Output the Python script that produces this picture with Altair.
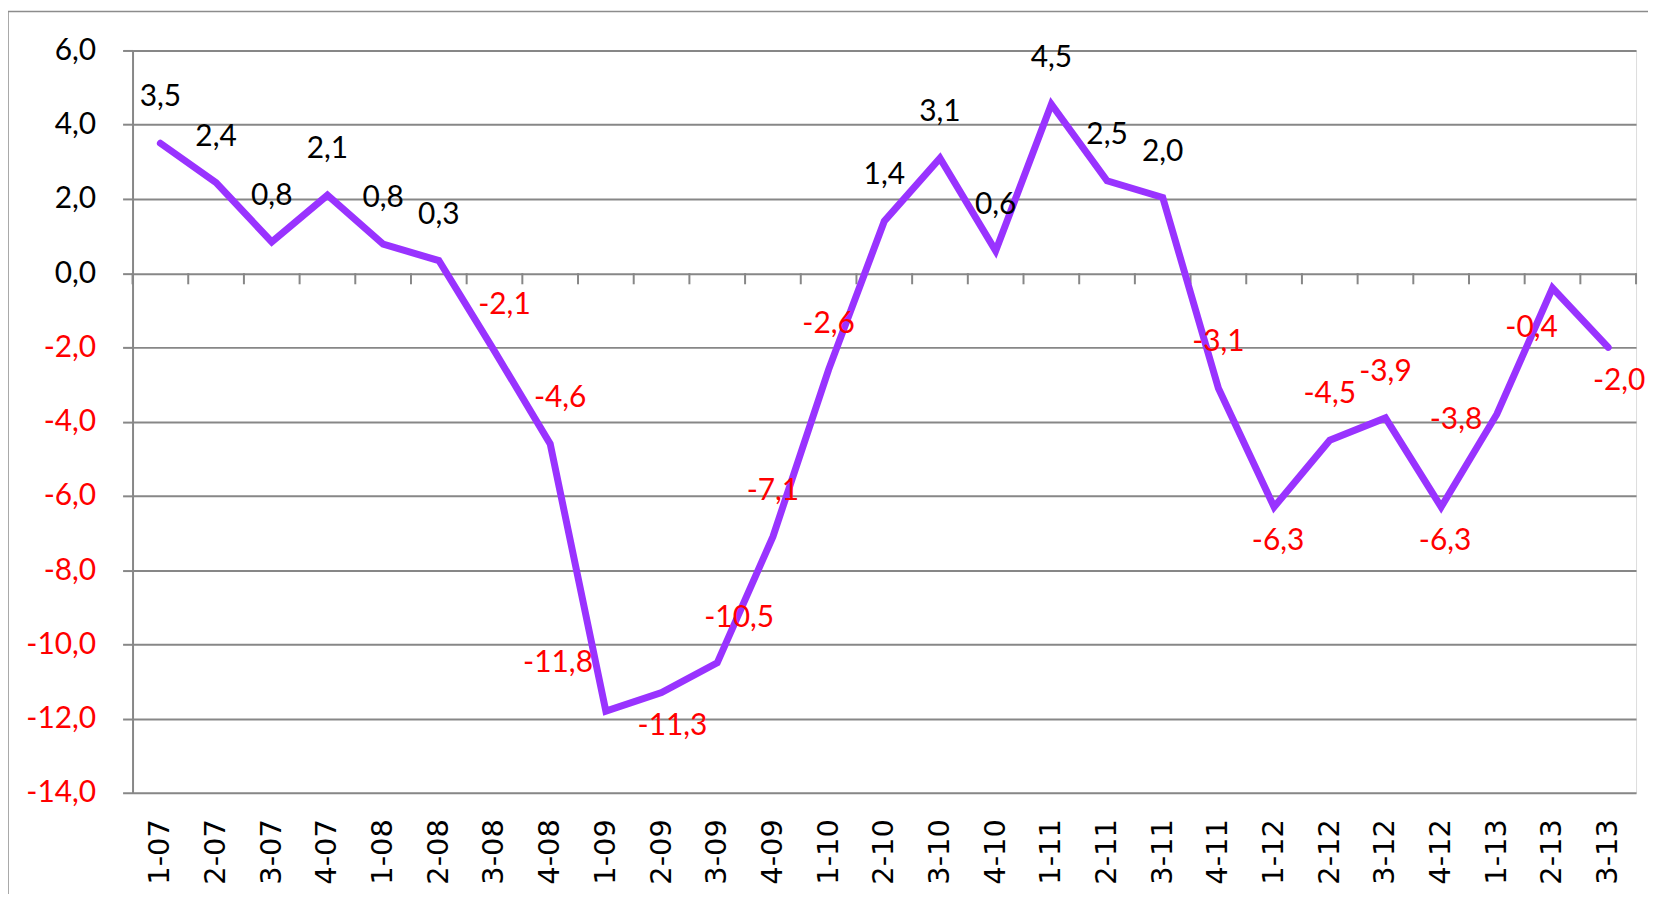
import altair as alt
import pandas as pd

quarters = ["1-07", "2-07", "3-07", "4-07", "1-08", "2-08", "3-08", "4-08",
            "1-09", "2-09", "3-09", "4-09", "1-10", "2-10", "3-10", "4-10",
            "1-11", "2-11", "3-11", "4-11", "1-12", "2-12", "3-12", "4-12",
            "1-13", "2-13", "3-13"]
values = [3.5, 2.44, 0.84, 2.1, 0.78, 0.34, -2.1, -4.6,
          -11.8, -11.3, -10.5, -7.1, -2.6, 1.4, 3.1, 0.6,
          4.55, 2.49, 2.04, -3.1, -6.3, -4.5, -3.9, -6.3,
          -3.8, -0.4, -2.0]
# Data-label placement (like Excel's per-point label position)
placements = ["above", "above", "above", "above", "above", "above", "above_r", "above_r",
              "upper_left", "below_r", "above_rr", "above", "above", "above", "above", "above",
              "above", "above", "above", "above", "below", "above", "above", "below",
              "left", "lower_left", "below_r"]
y_ticks = [-14, -12, -10, -8, -6, -4, -2, 0, 2, 4, 6]

OFFSETS = {
    "above": (0, -46),
    "above_r": (10, -46),
    "above_rr": (22, -45),
    "upper_left": (-48, -48),
    "below": (4, 34),
    "below_r": (11, 34),
    "left": (-41, 6),
    "lower_left": (-21, 40),
}

df = pd.DataFrame({"q": quarters, "v": values, "pos": placements})

FONT = "Lato"
FS = 30
GRAY = "#878787"
PURPLE = "#9933FF"
RED = "#FF0000"

W, H = 1509, 745

x_enc = alt.X("q:N", sort=quarters, title=None,
              scale=alt.Scale(paddingInner=0, paddingOuter=0),
              axis=alt.Axis(labelAngle=270, labelFont="DejaVu Sans", labelFontSize=29,
                            labelColor="black", labelPadding=26, ticks=False,
                            tickSize=0, domain=False, grid=False, labelBaseline="middle"))
y_enc = alt.Y("v:Q", title=None,
              scale=alt.Scale(domain=[-14, 6], nice=False, zero=False),
              axis=alt.Axis(values=y_ticks, grid=True, gridColor=GRAY, gridWidth=2,
                            domainColor=GRAY, domainWidth=2, tickColor=GRAY, tickWidth=2,
                            tickSize=10, labelFont=FONT, labelFontSize=FS, labelPadding=27,
                            labelExpr="(datum.value < 0 ? '-' : '') + replace(format(abs(datum.value), '.1f'), '.', ',')",
                            labelColor={"condition": {"test": "datum.value < 0", "value": RED},
                                        "value": "black"}))

base = alt.Chart(df)

line = base.mark_line(color=PURPLE, strokeWidth=7, strokeCap="round",
                      strokeJoin="miter").encode(x=x_enc, y=y_enc)

zero_ticks = base.mark_rule(color=GRAY, strokeWidth=2).encode(
    x=alt.X("q:N", sort=quarters, bandPosition=0),
    y=alt.datum(0), y2=alt.datum(-0.3))
end_tick = base.transform_filter("datum.q == '3-13'").mark_rule(color=GRAY, strokeWidth=2).encode(
    x=alt.X("q:N", sort=quarters, bandPosition=1),
    y=alt.datum(0), y2=alt.datum(-0.3))

labels = []
for name, (dx, dy) in OFFSETS.items():
    labels.append(
        base.transform_filter(alt.datum.pos == name)
        .transform_calculate(
            lab="(datum.v < 0 ? '-' : '') + replace(format(abs(datum.v), '.1f'), '.', ',')")
        .mark_text(font=FONT, fontSize=FS, dx=dx, dy=dy, align="center", baseline="middle")
        .encode(x=alt.X("q:N", sort=quarters), y=alt.Y("v:Q"),
                text="lab:N",
                color=alt.condition("datum.v < 0", alt.value(RED), alt.value("black")))
    )

frame_df = pd.DataFrame({"k": [0]})
frame_top = alt.Chart(frame_df).mark_rule(color="#8c8c8c", strokeWidth=1.5).encode(
    x=alt.value(-125), x2=alt.value(1530), y=alt.value(-39))
frame_left = alt.Chart(frame_df).mark_rule(color="#8c8c8c", strokeWidth=1.5).encode(
    x=alt.value(-125), y=alt.value(-39), y2=alt.value(870))

chart = alt.layer(frame_top, frame_left, zero_ticks, end_tick, line, *labels).properties(
    width=W, height=H,
    autosize=alt.AutoSizeParams(type="none"),
    padding={"left": 125, "top": 41, "right": 12, "bottom": 100},
).configure_view(strokeWidth=0).configure(background="white")

chart.save("out.html", embed_options={"renderer": "svg", "actions": False})
